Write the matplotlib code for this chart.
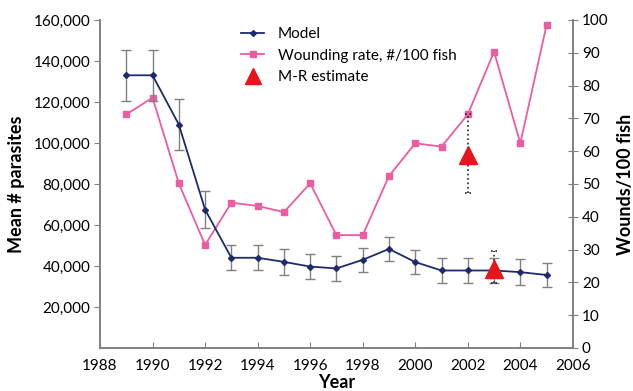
import numpy as np
import matplotlib
matplotlib.use("Agg")
import matplotlib.pyplot as plt

plt.rcParams['font.family'] = ['Lato', 'DejaVu Sans']

# model estimate of parasites (left axis)
years = [1989, 1990, 1991, 1992, 1993, 1994, 1995, 1996, 1997,
         1998, 1999, 2000, 2001, 2002, 2003, 2004, 2005]
model = [133000, 133000, 109000, 67500, 44000, 44000, 42000, 39700, 38800,
         43000, 48300, 41900, 37800, 37800, 37800, 37000, 35600]
model_err = [12300, 12300, 12500, 9000, 6100, 6100, 6200, 5900, 6200,
             6000, 5800, 6000, 6000, 6000, 6000, 6200, 6000]

# wounding rate (right axis)
wounds = [71.2, 76.3, 50.2, 31.4, 44.3, 43.3, 41.4, 50.2, 34.4,
          34.4, 52.4, 62.4, 61.4, 71.2, 90.3, 62.4, 98.5]

# mark-recapture estimates
mr_years = [2002, 2003]
mr_vals = [94000, 38500]
mr_lo = [75500, 31500]
mr_hi = [114000, 47500]

navy = '#1f2a6e'
pink = '#ec5ca0'
red = '#e8141c'
grey = '#808080'

fig = plt.figure(figsize=(6.33, 3.91), dpi=100)
ax = fig.add_axes([0.158, 0.110, 0.747, 0.839])
ax2 = ax.twinx()

ax.errorbar(years, model, yerr=model_err, fmt='none', ecolor=grey,
            elinewidth=1, capsize=3.5, capthick=1, zorder=2)
l1, = ax.plot(years, model, color=navy, marker='D', markersize=3,
              linewidth=1.3, zorder=4, label='Model')

l2, = ax2.plot(years, wounds, color=pink, marker='s', markersize=4,
               linewidth=1.3, label='Wounding rate, #/100 fish')

# M-R error bars, dotted
for x, lo, hi in zip(mr_years, mr_lo, mr_hi):
    ax.plot([x, x], [lo, hi], color='#222222', linestyle=':', linewidth=1.2, zorder=5)
    ax.plot([x - 0.12, x + 0.12], [lo, lo], color='#222222', linestyle=':', linewidth=1.2, zorder=5)
    ax.plot([x - 0.12, x + 0.12], [hi, hi], color='#222222', linestyle=':', linewidth=1.2, zorder=5)
l3, = ax.plot(mr_years, mr_vals, linestyle='none', marker='^', markersize=13,
              color=red, zorder=6, label='M-R estimate')

ax.set_zorder(ax2.get_zorder() + 1)
ax.patch.set_visible(False)

ax.set_xlim(1988, 2006)
ax.set_ylim(0, 160000)
ax2.set_ylim(0, 100)
ax.set_xticks(range(1988, 2007, 2))
ax.set_yticks(range(20000, 160001, 20000))
ax.set_yticklabels(['{:,}'.format(v) for v in range(20000, 160001, 20000)])
ax2.set_yticks(range(0, 101, 10))

for a in (ax, ax2):
    a.spines['top'].set_visible(False)
    for s in ('left', 'right', 'bottom'):
        a.spines[s].set_color(grey)
        a.spines[s].set_linewidth(1.2)

ax.tick_params(axis='y', direction='out', length=4, color=grey, labelsize=11, pad=3)
ax.tick_params(axis='x', direction='in', length=4, color=grey, labelsize=11, pad=8)
ax2.tick_params(axis='y', direction='inout', length=7, color=grey, labelsize=11, pad=3)

ax.set_xlabel('Year', fontsize=13, fontweight='bold', labelpad=1)
ax.set_ylabel('Mean # parasites', fontsize=13, fontweight='bold', labelpad=6)
ax2.set_ylabel('Wounds/100 fish', fontsize=13, fontweight='bold', labelpad=6)

leg = ax.legend([l1, l2, l3], ['Model', 'Wounding rate, #/100 fish', 'M-R estimate'],
                loc='upper left', bbox_to_anchor=(0.27, 1.02), frameon=False,
                fontsize=11, handlelength=1.5, labelspacing=0.5, handletextpad=0.9)
leg.legend_handles[2].set_markersize(11)

fig.savefig('out.png', dpi=100)
